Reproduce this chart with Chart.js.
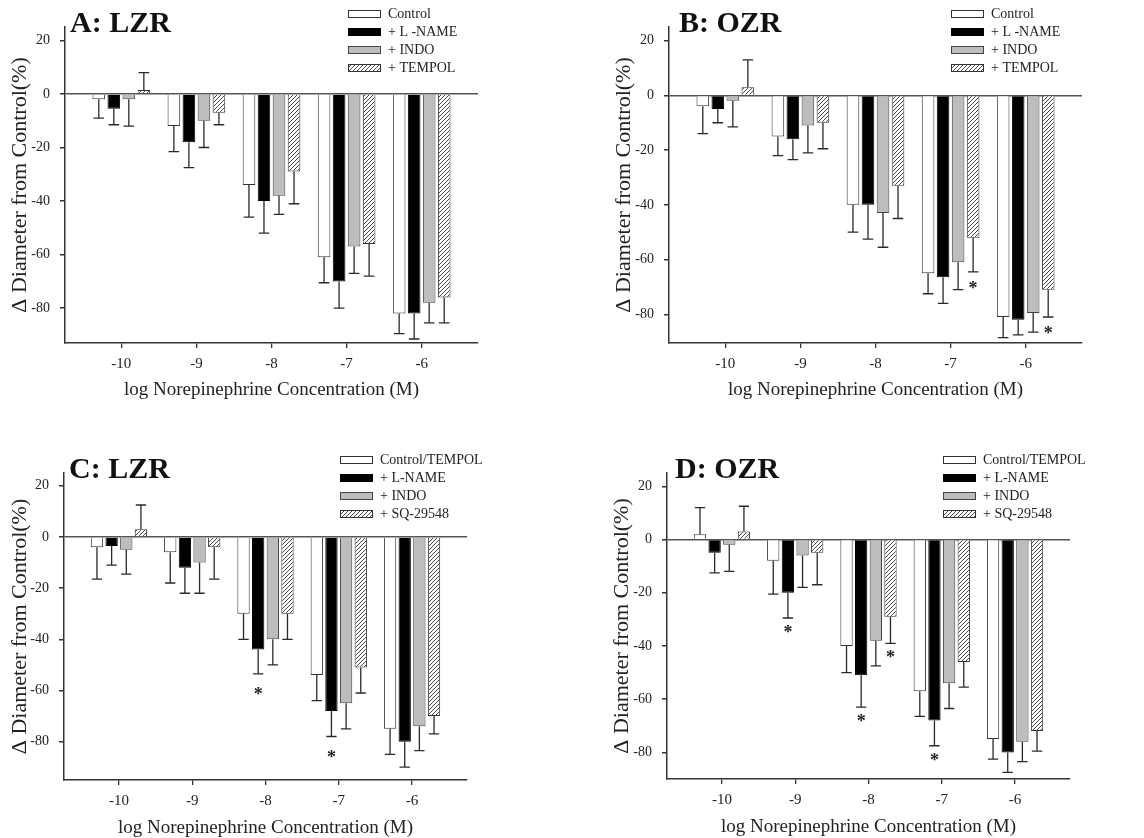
<!DOCTYPE html>
<html>
<head>
<meta charset="utf-8">
<script src="https://cdn.jsdelivr.net/npm/chart.js@4.4.1/dist/chart.umd.min.js"></script>
<style>
  html, body { margin: 0; padding: 0; background: #fff; }
  #figure { position: relative; width: 1144px; height: 838px; }
  .panel { position: absolute; width: 572px; height: 419px; }
</style>
</head>
<body>
<div id="figure">
  <div class="panel" style="left:0;top:0"><canvas id="chartA" width="572" height="419"></canvas></div>
  <div class="panel" style="left:572px;top:0"><canvas id="chartB" width="572" height="419"></canvas></div>
  <div class="panel" style="left:0;top:419px"><canvas id="chartC" width="572" height="419"></canvas></div>
  <div class="panel" style="left:572px;top:419px"><canvas id="chartD" width="572" height="419"></canvas></div>
</div>
<script>
// log [NE] steps and y tick values
const concentrations = [-10, -9, -8, -7, -6];
const yTicks = [20, 0, -20, -40, -60, -80];

const namesTempol = ['Control', '+ L -NAME', '+ INDO', '+ TEMPOL'];
const namesSq = ['Control/TEMPOL', '+ L-NAME', '+ INDO', '+ SQ-29548'];

// A: LZR  (mean, SE)
const lzrControl = [-2, -12, -34, -61, -82];
const lzrControlErr = [7, 9.5, 12, 9.5, 7.5];
const lzrLname = [-5.5, -18, -40, -70, -82];
const lzrLnameErr = [6, 9.5, 12, 10, 9.5];
const lzrIndo = [-2, -10, -38, -57, -78];
const lzrIndoErr = [10, 10, 7, 10, 7.5];
const lzrTempol = [1.5, -7, -29, -56, -76];
const lzrTempolErr = [6.5, 4.5, 12, 12, 9.5];

// B: OZR
const ozrControl = [-4, -15, -40, -65, -81];
const ozrControlErr = [10, 7, 10, 7.5, 7.5];
const ozrLname = [-5, -16, -40, -66.5, -82];
const ozrLnameErr = [5, 7.5, 12.5, 9.5, 5.5];
const ozrIndo = [-2, -11, -43, -61, -79.5];
const ozrIndoErr = [9.5, 10, 12.5, 10, 7];
const ozrTempol = [3, -10, -33, -52, -71];
const ozrTempolErr = [10, 9.5, 12, 12.5, 10];
const ozrStars = [[3, 3], [3, 4]];

// C: LZR, tempol-treated
const lzrSqControl = [-4, -6, -30, -54, -75];
const lzrSqControlErr = [12.5, 12, 10, 10, 10];
const lzrSqLname = [-3.5, -12, -44, -68, -80];
const lzrSqLnameErr = [7.5, 10, 9.5, 10, 10];
const lzrSqIndo = [-5, -10, -40, -65, -74];
const lzrSqIndoErr = [9.5, 12, 10, 10, 9.5];
const lzrSq = [3, -4, -30, -51, -70];
const lzrSqErr = [9.5, 12.5, 10, 10, 7];
const lzrSqStars = [[1, 2], [1, 3]];

// D: OZR, tempol-treated
const ozrSqControl = [2, -8, -40, -57, -75];
const ozrSqControlErr = [10, 12.5, 10, 9.5, 7.5];
const ozrSqLname = [-5, -20, -51, -68, -80];
const ozrSqLnameErr = [7.5, 9.5, 12, 9.5, 7.5];
const ozrSqIndo = [-2, -6, -38, -54, -76];
const ozrSqIndoErr = [10, 12, 9.5, 9.5, 7.5];
const ozrSq = [3, -5, -29, -46, -72];
const ozrSqErr = [9.5, 12, 10, 9.5, 7.5];
const ozrSqStars = [[1, 1], [1, 2], [1, 3], [3, 2]];

const SERIF = "'Liberation Serif', 'Times New Roman', serif";
const INK = '#222';

function makeHatch() {
  const tile = document.createElement('canvas');
  tile.width = 4; tile.height = 4;
  const g = tile.getContext('2d');
  g.fillStyle = '#fff';
  g.fillRect(0, 0, 4, 4);
  g.strokeStyle = '#333';
  g.lineWidth = 0.9;
  g.beginPath();
  g.moveTo(-1, 5); g.lineTo(5, -1);
  g.moveTo(-1, 1); g.lineTo(1, -1);
  g.moveTo(3, 5); g.lineTo(5, 3);
  g.stroke();
  return g.createPattern(tile, 'repeat');
}
const hatch = makeHatch();
const fills = ['#ffffff', '#000000', '#bdbdbd', hatch];
const borders = ['#333', '#000', '#444', '#333'];

const panels = [
  { canvas: 'chartA', title: 'A: LZR', names: namesTempol,
    values: [lzrControl, lzrLname, lzrIndo, lzrTempol],
    errors: [lzrControlErr, lzrLnameErr, lzrIndoErr, lzrTempolErr],
    stars: [], yMin: -93, yMax: 25,
    pad: { left: 0, top: 27, right: 94, bottom: 14 }, yWidth: 65, xHeight: 62, xTitlePad: 5,
    titleDx: 5, legendDx: 283, starGap: 13 },
  { canvas: 'chartB', title: 'B: OZR', names: namesTempol,
    values: [ozrControl, ozrLname, ozrIndo, ozrTempol],
    errors: [ozrControlErr, ozrLnameErr, ozrIndoErr, ozrTempolErr],
    stars: ozrStars, yMin: -90.5, yMax: 25,
    pad: { left: 32, top: 27, right: 62, bottom: 14 }, yWidth: 65, xHeight: 62, xTitlePad: 5,
    titleDx: 10, legendDx: 282, starGap: 14 },
  { canvas: 'chartC', title: 'C: LZR', names: namesSq,
    values: [lzrSqControl, lzrSqLname, lzrSqIndo, lzrSq],
    errors: [lzrSqControlErr, lzrSqLnameErr, lzrSqIndoErr, lzrSqErr],
    stars: lzrSqStars, yMin: -95, yMax: 25,
    pad: { left: 0, top: 54, right: 105, bottom: 0 }, yWidth: 64, xHeight: 58, xTitlePad: 0,
    titleDx: 5, legendDx: 276, starGap: 18 },
  { canvas: 'chartD', title: 'D: OZR', names: namesSq,
    values: [ozrSqControl, ozrSqLname, ozrSqIndo, ozrSq],
    errors: [ozrSqControlErr, ozrSqLnameErr, ozrSqIndoErr, ozrSqErr],
    stars: ozrSqStars, yMin: -90, yMax: 25,
    pad: { left: 30, top: 54, right: 74, bottom: 0 }, yWidth: 65, xHeight: 59, xTitlePad: 1.5,
    titleDx: 8, legendDx: 276, starGap: 12 }
];

// error bars (one-sided, away from zero), significance stars, panel title and legend
const decorPlugin = {
  id: 'decor',
  afterDatasetsDraw(chart, args, opts) {
    const ctx = chart.ctx;
    const yScale = chart.scales.y;
    ctx.save();
    ctx.strokeStyle = '#2a2a2a';
    ctx.lineWidth = 1.3;
    chart.data.datasets.forEach((ds, d) => {
      const meta = chart.getDatasetMeta(d);
      meta.data.forEach((bar, i) => {
        const v = ds.data[i].y;
        const end = v >= 0 ? v + ds.errors[i] : v - ds.errors[i];
        const yEnd = yScale.getPixelForValue(end);
        const cap = bar.width * 0.42;
        ctx.beginPath();
        ctx.moveTo(bar.x, bar.y);
        ctx.lineTo(bar.x, yEnd);
        ctx.moveTo(bar.x - cap, yEnd);
        ctx.lineTo(bar.x + cap, yEnd);
        ctx.stroke();
      });
    });
    ctx.fillStyle = INK;
    ctx.font = 'bold 18px ' + SERIF;
    ctx.textAlign = 'center';
    ctx.textBaseline = 'alphabetic';
    opts.stars.forEach(([d, i]) => {
      const ds = chart.data.datasets[d];
      const bar = chart.getDatasetMeta(d).data[i];
      const yEnd = yScale.getPixelForValue(ds.data[i].y - ds.errors[i]);
      ctx.fillText('*', bar.x, yEnd + opts.starGap + 8);
    });
    ctx.restore();
  },
  afterDraw(chart, args, opts) {
    const ctx = chart.ctx;
    const area = chart.chartArea;
    ctx.save();
    ctx.fillStyle = '#111';
    ctx.font = 'bold 30px ' + SERIF;
    ctx.textAlign = 'left';
    ctx.textBaseline = 'alphabetic';
    ctx.fillText(opts.title, area.left + opts.titleDx, area.top + 5);

    ctx.font = '14px ' + SERIF;
    ctx.textBaseline = 'middle';
    chart.data.datasets.forEach((ds, d) => {
      const bx = area.left + opts.legendDx;
      const cy = area.top - 13 + d * 18;
      ctx.fillStyle = ds.backgroundColor;
      ctx.fillRect(bx, cy - 4, 33, 8);
      ctx.strokeStyle = ds.borderColor;
      ctx.lineWidth = 1;
      ctx.strokeRect(bx + 0.5, cy - 3.5, 32, 7);
      ctx.fillStyle = INK;
      ctx.fillText(ds.label, bx + 40, cy);
    });
    ctx.restore();
  }
};

function drawPanel(p) {
  const datasets = p.values.map((vals, s) => ({
    label: p.names[s],
    data: concentrations.map((c, i) => ({ x: c, y: vals[i] })),
    errors: p.errors[s],
    backgroundColor: fills[s],
    borderColor: borders[s],
    borderWidth: 1,
    categoryPercentage: 0.8,
    barPercentage: 0.84
  }));

  new Chart(document.getElementById(p.canvas), {
    type: 'bar',
    data: { datasets },
    plugins: [decorPlugin],
    options: {
      responsive: false,
      animation: false,
      devicePixelRatio: 1,
      layout: { padding: p.pad },
      plugins: {
        legend: { display: false },
        tooltip: { enabled: false },
        decor: { title: p.title, titleDx: p.titleDx, legendDx: p.legendDx, stars: p.stars, starGap: p.starGap }
      },
      scales: {
        x: {
          type: 'linear',
          min: -10.75,
          max: -5.25,
          offset: false,
          afterBuildTicks: s => { s.ticks = concentrations.map(v => ({ value: v })); },
          afterFit: s => { s.height = p.xHeight; },
          border: { color: '#333', width: 1.5 },
          grid: { offset: false, drawOnChartArea: false, tickLength: 5, tickColor: '#333', lineWidth: 1.3 },
          ticks: { color: INK, padding: 7, maxRotation: 0, font: { family: SERIF, size: 15 } },
          title: {
            display: true,
            text: 'log Norepinephrine Concentration (M)',
            color: INK,
            padding: { top: 0, bottom: p.xTitlePad },
            font: { family: SERIF, size: 19, lineHeight: 1 }
          }
        },
        y: {
          min: p.yMin,
          max: p.yMax,
          afterBuildTicks: s => { s.ticks = yTicks.map(v => ({ value: v })); },
          afterFit: s => { s.width = p.yWidth; },
          border: { color: '#333', width: 1.5 },
          grid: {
            drawOnChartArea: true,
            tickLength: 5,
            tickColor: '#333',
            lineWidth: 1.5,
            color: c => (c.tick && c.tick.value === 0 ? '#555' : 'rgba(0,0,0,0)')
          },
          ticks: { color: INK, padding: 10, font: { family: SERIF, size: 14 } },
          title: {
            display: true,
            text: '\u0394 Diameter from Control(%)',
            color: INK,
            padding: { top: 7, bottom: 0 },
            font: { family: SERIF, size: 22 }
          }
        }
      }
    }
  });
}

panels.forEach(drawPanel);
</script>
</body>
</html>
